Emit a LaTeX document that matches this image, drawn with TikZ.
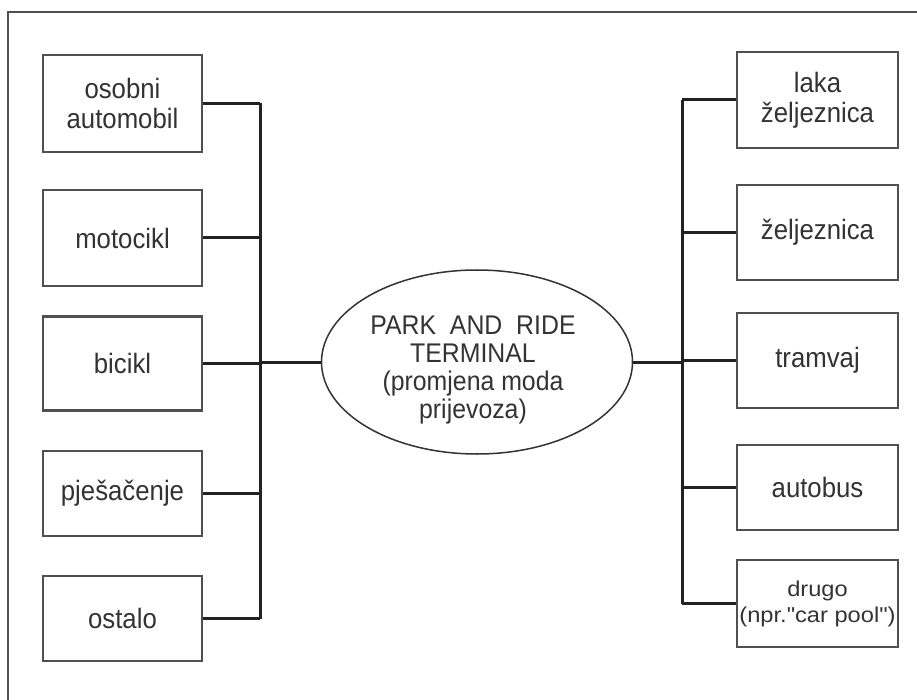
\documentclass[tikz,border=0pt]{standalone}
\usepackage{fontspec}
\setmainfont{Liberation Sans}[FakeStretch=0.92]
\newfontfamily\widefont{Liberation Sans}[FakeStretch=1.1]
\usetikzlibrary{shapes.geometric}
\definecolor{txt}{HTML}{333333}
\definecolor{bord}{HTML}{505050}
\definecolor{busc}{HTML}{222222}
\begin{document}
\begin{tikzpicture}[x=1pt,y=-1pt,
  modebox/.style={draw=bord, line width=2.5pt, rectangle, inner sep=0pt,
    align=center, text=txt, font=\fontsize{28}{30}\selectfont},
  leftbox/.style={modebox, minimum width=159pt},
  rightbox/.style={modebox, minimum width=161pt},
  hub/.style={draw=txt, line width=1.5pt, ellipse, inner sep=0pt,
    minimum width=311pt, minimum height=184pt},
  hubtext/.style={inner sep=0pt, align=center, text=txt,
    font=\fontsize{27}{28}\selectfont},
  bus/.style={draw=busc, line width=3pt},
  frame/.style={draw=bord, line width=2pt}]
\useasboundingbox (0,0) rectangle (917,700);
\fill[white] (0,0) rectangle (917,700);
% outer frame (cut at right and bottom)
\coordinate (fb) at (8,700);
\coordinate (fc) at (8,12);
\coordinate (fr) at (917,12);
\draw[frame] (fb) -- (fc) -- (fr);
% left boxes
\node[leftbox, minimum height=97pt] (a1) at (122.5,103.5) {osobni\\automobil};
\node[leftbox, minimum height=96pt] (a2) at (122.5,238) {motocikl};
\node[leftbox, minimum height=94pt] (a3) at (122.5,363.5) {bicikl};
\node[leftbox, minimum height=85pt] (a4) at (122.5,493.5) {pješačenje};
\node[leftbox, minimum height=85pt] (a5) at (122.5,618.5) {ostalo};
% right boxes
\node[rightbox, minimum height=96pt] (b1) at (817.5,100) {laka\\željeznica};
\node[rightbox, minimum height=95pt] (b2) at (817.5,232.5) {željeznica};
\node[rightbox, minimum height=95pt] (b3) at (817.5,360.5) {tramvaj};
\node[rightbox, minimum height=85pt] (b4) at (817.5,487.5) {autobus};
\node[rightbox, minimum height=87pt,
  font=\widefont\fontsize{21.5}{26}\selectfont] (b5) at (817.5,603.5) {drugo\\(npr."car pool")};
% hub
\node[hub] (e) at (477,362) {};
\node[hubtext] (et) at ([xshift=-4pt,yshift=-8pt]e.center) {PARK\ \ AND\ \ RIDE\\TERMINAL\\(promjena moda\\prijevoza)};
% buses
\coordinate (lb) at (260,0);
\coordinate (rb) at (682,0);
\draw[bus] (a1.east -| lb) -- (a5.east -| lb);
\draw[bus] (b1.west -| rb) -- (b5.west -| rb);
\foreach \n in {a1,a2,a3,a4,a5}{\draw[bus] (\n.east) -- (\n.east -| lb);}
\foreach \n in {b1,b2,b3,b4,b5}{\draw[bus] (\n.west) -- (\n.west -| rb);}
\draw[bus] (e.west) -- (e.west -| lb);
\draw[bus] (e.east) -- (e.east -| rb);
\end{tikzpicture}
\end{document}
